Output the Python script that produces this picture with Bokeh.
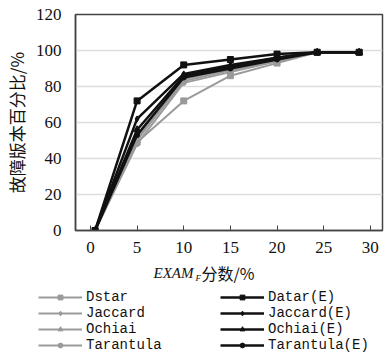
from bokeh.plotting import figure
from bokeh.models import Legend, LegendItem, Label, Range1d, FixedTicker
from bokeh.layouts import column
from bokeh.embed import file_html
from bokeh.resources import INLINE

x_vals = [0.5, 5, 10, 15, 20, 24.3, 28.8]
names = ["Dstar", "Jaccard", "Ochiai", "Tarantula",
         "Datar(E)", "Jaccard(E)", "Ochiai(E)", "Tarantula(E)"]
dstar = [0, 49, 72, 86, 93, 99, 99]
jaccard = [0, 51, 83, 89, 94, 99, 99]
ochiai = [0, 50, 84, 90, 95, 99, 99]
tarantula = [0, 48, 82, 88, 94, 99, 99]
datar_e = [0, 72, 92, 95, 98, 99, 99]
jaccard_e = [0, 62, 87, 92, 96, 99, 99]
ochiai_e = [0, 56, 86, 91, 96, 99, 99]
tarantula_e = [0, 53, 85, 90, 95, 99, 99]
series = [dstar, jaccard, ochiai, tarantula, datar_e, jaccard_e, ochiai_e, tarantula_e]
markers = ["square", "diamond", "triangle", "circle"] * 2
colors = ["#9a9a9a"] * 4 + ["#111111"] * 4
x_ticks = [0, 5, 10, 15, 20, 25, 30]
y_ticks = [0, 20, 40, 60, 80, 100, 120]

SERIF = "'Liberation Serif'"
CJK = "'Noto Sans CJK SC'"
MONO = "'Liberation Mono'"

H1 = 260
H2 = 357 - H1

p = figure(width=384, height=H1, output_backend="svg", toolbar_location=None,
           x_range=Range1d(-1.6, 31.3), y_range=Range1d(0, 120),
           min_border_left=74, min_border_right=2, min_border_top=14, min_border_bottom=30)
p.frame_align = False

p.outline_line_color = "#444444"
p.outline_line_width = 1.5
p.xgrid.grid_line_color = None
p.ygrid.grid_line_color = "#dddddd"
p.ygrid.grid_line_width = 1.5

p.xaxis.ticker = FixedTicker(ticks=x_ticks)
p.yaxis.ticker = FixedTicker(ticks=y_ticks)
for ax in (p.xaxis[0], p.yaxis[0]):
    ax.major_label_text_font = SERIF
    ax.major_label_text_font_size = "17px"
    ax.major_label_text_color = "#111111"
    ax.minor_tick_line_color = None
    ax.axis_line_color = "#444444"
    ax.axis_line_width = 1.5
p.xaxis.major_tick_in = 5
p.xaxis.major_tick_out = 0
p.xaxis.major_tick_line_color = "#444444"
p.xaxis.major_label_standoff = 11
p.yaxis.major_tick_line_color = None
p.yaxis.major_label_standoff = 8
p.yaxis.axis_label = "故障版本百分比/%"
p.yaxis.axis_label_text_font = CJK
p.yaxis.axis_label_text_font_size = "17px"
p.yaxis.axis_label_text_font_style = "normal"
p.yaxis.axis_label_standoff = 4
p.yaxis.axis_label_text_color = "#111111"

# legend / x-title panel (its data range is placed away from the drawn data)
q = figure(width=384, height=H2, output_backend="svg", toolbar_location=None,
           x_range=Range1d(0, 384), y_range=Range1d(1000, 1000 + H2),
           min_border=0, x_axis_type=None, y_axis_type=None)
q.frame_align = False
q.outline_line_color = None
q.grid.grid_line_color = None

items = []
for name, ys, mk, col in zip(names, series, markers, colors):
    lw = 2 if col != "#111111" else 2.5
    sz = 6 if mk != "triangle" else 7
    if mk == "circle":
        sz = 5
    p.line(x_vals, ys, line_color=col, line_width=lw)
    p.scatter(x_vals, ys, marker=mk, size=sz, fill_color=col, line_color=col)
    l1 = q.line(x_vals, ys, line_color=col, line_width=lw)
    l2 = q.scatter(x_vals, ys, marker=mk, size=sz, fill_color=col, line_color=col)
    items.append(LegendItem(label=name, renderers=[l1, l2]))

legend = Legend(items=items, ncols=2, location=(38, 4),
                label_text_font=MONO, label_text_font_size="14px",
                label_text_line_height=1.0,
                label_text_color="#111111",
                glyph_width=44, glyph_height=12, label_height=12, label_standoff=4,
                label_width=134, spacing=0, padding=0, margin=0,
                border_line_color=None, background_fill_alpha=0)
q.add_layout(legend, "center")

ty = H2 - 12
q.add_layout(Label(x=153, y=ty, x_units="screen", y_units="screen", text="EXAM",
                   text_font=SERIF, text_font_style="italic",
                   text_font_size="15px", text_baseline="middle", text_color="#111111"))
q.add_layout(Label(x=195, y=ty - 5, x_units="screen", y_units="screen", text="F",
                   text_font=SERIF, text_font_style="italic",
                   text_font_size="9px", text_baseline="middle", text_color="#111111"))
q.add_layout(Label(x=201, y=ty, x_units="screen", y_units="screen", text="分数/%",
                   text_font=CJK,
                   text_font_size="16px", text_baseline="middle", text_color="#111111"))

layout = column(p, q, spacing=0)
open("out.html", "w").write(file_html(layout, INLINE))
